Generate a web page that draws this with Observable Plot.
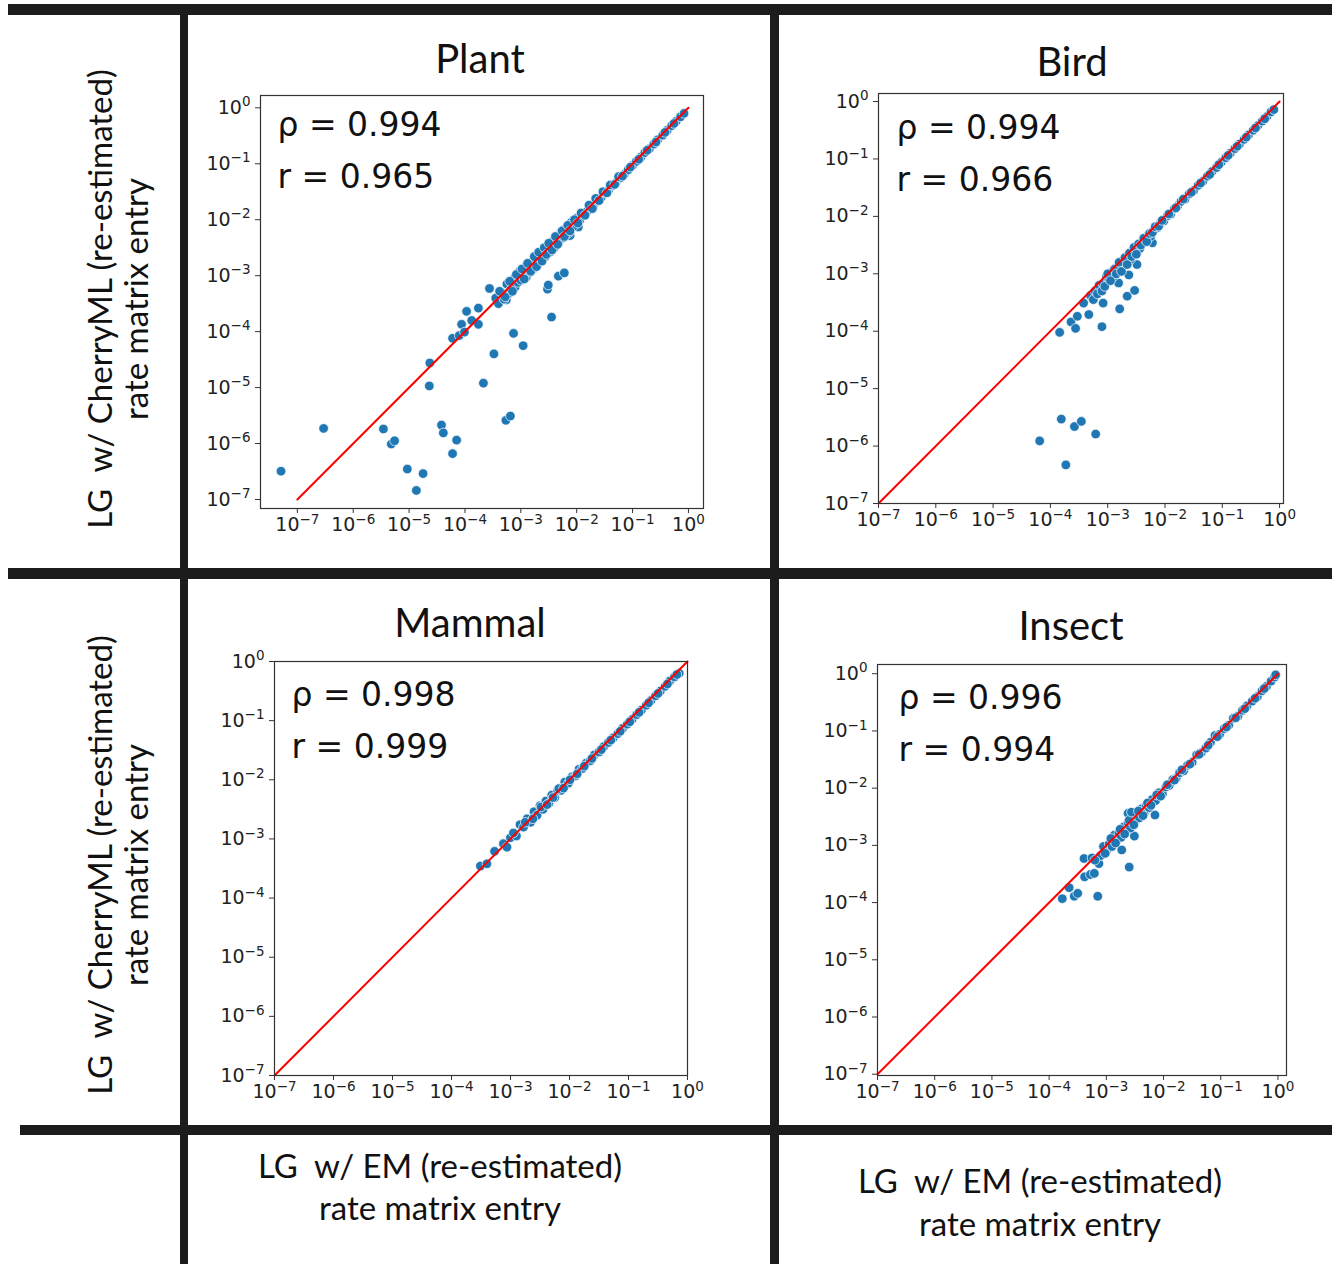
<!DOCTYPE html>
<html>
<head>
<meta charset="utf-8">
<script src="https://cdn.jsdelivr.net/npm/d3@7"></script>
<script src="https://cdn.jsdelivr.net/npm/@observablehq/plot@0.6"></script>
<style>
  html, body { margin: 0; padding: 0; background: white; }
  #root { position: relative; width: 1336px; height: 1264px; background: white; overflow: hidden; }
  .panel { position: absolute; }
  #deco { position: absolute; left: 0; top: 0; pointer-events: none; }
  #deco text { white-space: pre; }
</style>
</head>
<body>
<div id="root"></div>
<script>
// ---------- data ----------
const titles = ["Plant", "Bird", "Mammal", "Insect"];
const rhoValues = ["0.994", "0.994", "0.998", "0.996"];
const rValues = ["0.965", "0.966", "0.999", "0.994"];
const tickValues = [1e-7, 1e-6, 1e-5, 1e-4, 1e-3, 1e-2, 1e-1, 1];
const diagonal = [1e-7, 1];
const rowLabel = ["LG  w/ CherryML (re-estimated)", "rate matrix entry"];
const colLabel = ["LG  w/ EM (re-estimated)", "rate matrix entry"];

const plantX = [
  5.1e-8, 2.95e-7, 3.47e-6, 4.8e-6, 5.5e-6, 9.3e-6, 1.35e-5, 1.78e-5, 2.3e-5, 2.35e-5,
  3.8e-5, 4.1e-5, 6.0e-5, 7.1e-5, 6.0e-5, 7.9e-5, 8.7e-5, 9.8e-5, 1.07e-4, 1.32e-4,
  1.74e-4, 1.74e-4, 2.14e-4, 2.75e-4, 3.3e-4, 3.7e-4, 5.5e-4, 5.4e-4, 6.5e-4, 7.4e-4,
  1.1e-3, 3.0e-3, 3.1e-3, 3.55e-3, 4.7e-3, 6.0e-3, 7.6e-3, 1.07e-2,
  3.55e-4, 3.98e-4, 4.47e-4, 5.01e-4, 5.62e-4, 6.03e-4, 6.61e-4, 7.59e-4, 7.94e-4, 8.91e-4,
  9.55e-4, 1.00e-3, 1.10e-3, 1.20e-3, 1.26e-3, 1.38e-3, 1.45e-3, 1.58e-3, 1.66e-3, 1.82e-3,
  2.00e-3, 2.19e-3, 2.34e-3, 2.51e-3, 2.75e-3, 3.02e-3, 3.31e-3, 3.55e-3, 3.98e-3, 4.37e-3,
  4.79e-3, 5.25e-3, 5.75e-3, 6.31e-3, 7.08e-3, 7.94e-3, 8.71e-3, 1.00e-2, 1.12e-2, 1.32e-2,
  1.51e-2, 1.74e-2, 2.00e-2, 2.34e-2, 2.75e-2, 3.16e-2, 3.72e-2, 4.37e-2, 5.01e-2, 6.03e-2,
  7.08e-2, 8.32e-2, 1.00e-1, 1.17e-1, 1.41e-1, 1.66e-1, 2.00e-1, 2.40e-1, 2.82e-1, 3.47e-1,
  4.17e-1, 5.01e-1, 6.03e-1, 7.24e-1, 8.32e-1,
  4.17e-4, 5.25e-4, 6.31e-4, 7.08e-4, 8.32e-4, 1.05e-3, 1.15e-3, 1.32e-3, 1.51e-3, 1.74e-3,
  1.91e-3, 2.09e-3, 2.40e-3, 2.63e-3, 2.88e-3, 3.16e-3, 3.63e-3, 4.17e-3, 4.57e-3, 5.50e-3,
  6.03e-3, 6.92e-3, 7.59e-3, 9.12e-3, 1.05e-2, 1.20e-2, 1.41e-2, 1.66e-2, 1.91e-2, 2.19e-2,
  2.51e-2, 2.95e-2, 3.47e-2, 3.98e-2, 4.79e-2, 5.62e-2, 6.61e-2, 9.12e-2, 1.29e-1, 1.82e-1,
  2.63e-1, 3.80e-1, 5.50e-1
];
const plantY = [
  3.2e-7, 1.86e-6, 1.82e-6, 9.8e-7, 1.12e-6, 3.5e-7, 1.45e-7, 2.9e-7, 1.07e-5, 2.75e-5,
  2.14e-6, 1.55e-6, 6.6e-7, 1.15e-6, 7.6e-5, 8.5e-5, 1.35e-4, 9.8e-5, 2.3e-4, 1.58e-4,
  2.63e-4, 1.35e-4, 1.2e-5, 5.9e-4, 4.0e-5, 3.6e-4, 3.7e-4, 2.6e-6, 3.1e-6, 9.3e-5,
  5.6e-5, 5.75e-4, 6.8e-4, 1.82e-4, 9.8e-4, 1.12e-3, 5.2e-3, 7.4e-3,
  3.98e-4, 3.16e-4, 5.01e-4, 3.80e-4, 7.08e-4, 4.79e-4, 5.62e-4, 8.91e-4, 6.31e-4, 7.59e-4,
  1.20e-3, 8.32e-4, 1.05e-3, 1.41e-3, 9.55e-4, 1.58e-3, 1.15e-3, 1.74e-3, 1.32e-3, 2.00e-3,
  1.58e-3, 2.40e-3, 1.91e-3, 2.82e-3, 2.19e-3, 3.31e-3, 2.63e-3, 3.98e-3, 3.16e-3, 4.79e-3,
  3.98e-3, 6.03e-3, 4.79e-3, 6.92e-3, 5.75e-3, 8.91e-3, 7.59e-3, 1.07e-2, 9.55e-3, 1.26e-2,
  1.38e-2, 1.66e-2, 1.82e-2, 2.19e-2, 2.51e-2, 3.02e-2, 3.39e-2, 4.07e-2, 4.57e-2, 5.62e-2,
  6.46e-2, 7.76e-2, 9.33e-2, 1.10e-1, 1.32e-1, 1.58e-1, 1.86e-1, 2.24e-1, 2.69e-1, 3.24e-1,
  3.98e-1, 4.79e-1, 5.75e-1, 6.92e-1, 7.94e-1,
  5.25e-4, 4.17e-4, 7.94e-4, 5.25e-4, 1.05e-3, 1.32e-3, 8.71e-4, 1.66e-3, 1.20e-3, 2.19e-3,
  1.45e-3, 2.63e-3, 1.82e-3, 3.16e-3, 2.40e-3, 3.80e-3, 2.88e-3, 5.01e-3, 3.63e-3, 6.31e-3,
  5.01e-3, 7.94e-3, 6.31e-3, 1.00e-2, 8.71e-3, 1.32e-2, 1.20e-2, 1.82e-2, 1.58e-2, 2.40e-2,
  2.19e-2, 3.16e-2, 3.02e-2, 4.17e-2, 4.27e-2, 5.89e-2, 6.03e-2, 8.71e-2, 1.20e-1, 1.74e-1,
  2.45e-1, 3.63e-1, 5.25e-1
];

const birdX = [
  6.5e-5, 1.55e-4, 1.86e-4, 2.63e-4, 3.47e-4, 6.17e-4, 1.45e-4, 2.29e-4, 2.75e-4, 2.95e-4,
  4.68e-4, 7.94e-4, 3.80e-4, 5.37e-4, 8.32e-4, 6.31e-4, 1.62e-3, 2.19e-3, 2.95e-3, 1.05e-3,
  1.55e-3, 2.34e-3, 3.24e-3, 6.03e-3,
  5.01e-4, 6.03e-4, 7.08e-4, 8.32e-4, 9.55e-4, 1.05e-3, 1.15e-3, 1.26e-3, 1.38e-3, 1.51e-3,
  1.66e-3, 1.78e-3, 1.91e-3, 2.09e-3, 2.29e-3, 2.51e-3, 2.75e-3, 3.02e-3, 3.31e-3, 3.63e-3,
  3.98e-3, 4.47e-3, 5.01e-3, 5.62e-3, 6.31e-3, 7.24e-3, 8.32e-3, 9.55e-3, 1.10e-2, 1.26e-2,
  1.45e-2, 1.66e-2, 1.91e-2, 2.24e-2, 2.63e-2, 3.16e-2, 3.80e-2, 4.57e-2, 5.50e-2, 6.61e-2,
  7.94e-2, 9.55e-2, 1.15e-1, 1.38e-1, 1.66e-1, 2.00e-1, 2.40e-1, 2.88e-1, 3.47e-1, 4.17e-1,
  5.01e-1, 6.03e-1, 7.08e-1, 7.94e-1,
  5.62e-4, 6.61e-4, 7.94e-4, 8.91e-4, 1.00e-3, 1.12e-3, 1.32e-3, 1.41e-3, 1.58e-3, 1.74e-3,
  2.00e-3, 2.19e-3, 2.40e-3, 2.63e-3, 2.88e-3, 3.16e-3, 3.47e-3, 3.80e-3, 4.27e-3, 4.79e-3,
  5.37e-3, 6.03e-3, 6.76e-3, 7.76e-3, 8.91e-3, 1.17e-2, 1.55e-2, 2.09e-2, 2.88e-2, 4.17e-2,
  6.03e-2, 8.71e-2, 1.26e-1, 1.82e-1, 2.63e-1, 3.80e-1, 5.50e-1
];
const birdY = [
  1.23e-6, 2.95e-6, 4.7e-7, 2.19e-6, 2.69e-6, 1.62e-6, 9.55e-5, 1.45e-4, 1.12e-4, 1.82e-4,
  1.95e-4, 1.20e-4, 3.09e-4, 3.80e-4, 3.09e-4, 4.37e-4, 2.45e-4, 4.07e-4, 5.13e-4, 7.41e-4,
  6.92e-4, 9.55e-4, 1.45e-3, 3.47e-3,
  4.17e-4, 5.01e-4, 6.31e-4, 6.61e-4, 8.91e-4, 7.94e-4, 1.05e-3, 8.91e-4, 1.26e-3, 1.12e-3,
  1.45e-3, 1.26e-3, 1.74e-3, 1.51e-3, 2.09e-3, 1.78e-3, 2.51e-3, 2.40e-3, 3.02e-3, 2.75e-3,
  3.63e-3, 3.80e-3, 4.57e-3, 4.47e-3, 5.75e-3, 6.31e-3, 7.59e-3, 8.32e-3, 1.02e-2, 1.10e-2,
  1.35e-2, 1.51e-2, 1.82e-2, 2.00e-2, 2.45e-2, 2.82e-2, 3.47e-2, 4.07e-2, 5.01e-2, 6.03e-2,
  7.08e-2, 8.71e-2, 1.05e-1, 1.26e-1, 1.51e-1, 1.82e-1, 2.19e-1, 2.63e-1, 3.16e-1, 3.80e-1,
  4.57e-1, 5.50e-1, 6.61e-1, 7.24e-1,
  3.55e-4, 4.47e-4, 5.01e-4, 6.03e-4, 1.00e-3, 7.59e-4, 1.20e-3, 1.00e-3, 1.58e-3, 1.10e-3,
  1.91e-3, 1.45e-3, 2.29e-3, 2.00e-3, 2.88e-3, 2.19e-3, 3.31e-3, 3.16e-3, 4.17e-3, 3.63e-3,
  5.01e-3, 5.25e-3, 6.61e-3, 6.76e-3, 8.51e-3, 1.10e-2, 1.41e-2, 2.00e-2, 2.63e-2, 3.80e-2,
  5.37e-2, 7.94e-2, 1.15e-1, 1.66e-1, 2.40e-1, 3.47e-1, 5.01e-1
];

const mammalX = [
  3.09e-4, 3.98e-4, 5.37e-4, 7.59e-4, 8.71e-4, 1.00e-3, 1.26e-3, 1.45e-3, 1.66e-3, 1.91e-3,
  2.19e-3, 2.51e-3, 2.82e-3, 3.16e-3, 3.55e-3, 3.98e-3, 4.47e-3, 5.01e-3, 5.62e-3, 6.31e-3,
  7.24e-3, 8.32e-3, 9.55e-3, 1.10e-2, 1.26e-2, 1.45e-2, 1.66e-2, 1.91e-2, 2.24e-2, 2.63e-2,
  3.16e-2, 3.80e-2, 4.57e-2, 5.50e-2, 6.61e-2, 7.94e-2, 9.55e-2, 1.15e-1, 1.38e-1, 1.66e-1,
  2.00e-1, 2.40e-1, 2.88e-1, 3.47e-1, 4.17e-1, 5.01e-1, 6.03e-1, 7.24e-1,
  1.12e-3, 1.78e-3, 2.40e-3, 3.31e-3, 4.17e-3, 5.25e-3, 6.61e-3, 7.94e-3, 1.02e-2, 1.35e-2,
  1.78e-2, 2.40e-2, 3.47e-2, 5.01e-2, 7.24e-2, 1.05e-1, 1.51e-1, 2.19e-1, 3.16e-1, 4.57e-1,
  6.61e-1
];
const mammalY = [
  3.47e-4, 3.80e-4, 6.17e-4, 8.32e-4, 7.24e-4, 1.05e-3, 1.12e-3, 1.74e-3, 1.58e-3, 2.19e-3,
  1.91e-3, 2.88e-3, 2.51e-3, 3.63e-3, 3.16e-3, 4.37e-3, 3.98e-3, 5.50e-3, 5.01e-3, 6.61e-3,
  6.61e-3, 9.12e-3, 8.71e-3, 1.12e-2, 1.17e-2, 1.51e-2, 1.55e-2, 1.91e-2, 2.09e-2, 2.63e-2,
  2.95e-2, 3.63e-2, 4.27e-2, 5.13e-2, 6.03e-2, 7.41e-2, 8.71e-2, 1.05e-1, 1.26e-1, 1.51e-1,
  1.82e-1, 2.19e-1, 2.63e-1, 3.16e-1, 3.80e-1, 4.68e-1, 5.50e-1, 6.31e-1,
  1.26e-3, 1.91e-3, 2.19e-3, 3.47e-3, 3.80e-3, 5.01e-3, 7.08e-3, 7.24e-3, 1.00e-2, 1.26e-2,
  1.70e-2, 2.29e-2, 3.24e-2, 4.68e-2, 6.61e-2, 9.55e-2, 1.38e-1, 2.00e-1, 2.88e-1, 4.17e-1,
  6.03e-1
];

const insectX = [
  1.70e-4, 2.24e-4, 2.75e-4, 3.16e-4, 7.08e-4, 2.51e-3, 4.07e-4, 4.17e-4, 5.25e-4, 6.17e-4,
  7.41e-4, 1.86e-3, 2.40e-3, 3.09e-3, 7.08e-3,
  5.62e-4, 7.94e-4, 8.91e-4, 1.00e-3, 1.12e-3, 1.26e-3, 1.38e-3, 1.51e-3, 1.66e-3, 1.82e-3,
  2.00e-3, 2.19e-3, 2.40e-3, 2.63e-3, 2.88e-3, 3.16e-3, 3.47e-3, 3.80e-3, 4.17e-3, 4.57e-3,
  5.01e-3, 5.62e-3, 6.31e-3, 7.24e-3, 8.32e-3, 9.55e-3, 1.10e-2, 1.26e-2, 1.45e-2, 1.66e-2,
  1.91e-2, 2.24e-2, 2.63e-2, 3.16e-2, 3.80e-2, 4.57e-2, 5.50e-2, 6.61e-2, 7.94e-2, 9.55e-2,
  1.15e-1, 1.38e-1, 1.66e-1, 2.00e-1, 2.40e-1, 2.88e-1, 3.55e-1, 4.37e-1, 5.25e-1, 6.31e-1,
  7.59e-1, 8.71e-1, 9.12e-1,
  6.31e-4, 9.55e-4, 1.20e-3, 1.45e-3, 1.74e-3, 2.09e-3, 2.51e-3, 2.75e-3, 3.02e-3, 3.63e-3,
  4.37e-3, 5.25e-3, 6.03e-3, 7.59e-3, 8.91e-3, 1.17e-2, 1.55e-2, 2.09e-2, 2.88e-2, 4.17e-2,
  6.03e-2, 8.71e-2, 1.26e-1, 1.82e-1, 2.63e-1, 3.98e-1, 5.75e-1
];
const insectY = [
  1.17e-4, 1.82e-4, 1.29e-4, 1.45e-4, 1.29e-4, 4.17e-4, 5.89e-4, 2.82e-4, 3.09e-4, 3.24e-4,
  4.79e-4, 8.32e-4, 3.63e-3, 1.45e-3, 3.39e-3,
  6.03e-4, 6.61e-4, 9.55e-4, 7.94e-4, 1.05e-3, 9.55e-4, 1.51e-3, 1.20e-3, 1.66e-3, 1.38e-3,
  2.09e-3, 1.74e-3, 2.51e-3, 2.00e-3, 3.02e-3, 2.63e-3, 3.63e-3, 3.02e-3, 4.37e-3, 3.63e-3,
  5.01e-3, 4.57e-3, 6.31e-3, 6.03e-3, 8.32e-3, 7.94e-3, 1.05e-2, 1.12e-2, 1.41e-2, 1.48e-2,
  1.86e-2, 2.00e-2, 2.51e-2, 2.82e-2, 3.80e-2, 4.17e-2, 5.01e-2, 6.31e-2, 8.32e-2, 8.71e-2,
  1.10e-1, 1.26e-1, 1.66e-1, 1.82e-1, 2.29e-1, 2.75e-1, 3.31e-1, 3.98e-1, 5.01e-1, 6.03e-1,
  7.41e-1, 8.71e-1, 9.55e-1,
  5.50e-4, 7.24e-4, 1.32e-3, 1.10e-3, 1.91e-3, 1.58e-3, 2.75e-3, 3.80e-3, 2.29e-3, 3.98e-3,
  3.31e-3, 5.50e-3, 5.01e-3, 7.59e-3, 7.24e-3, 1.15e-2, 1.38e-2, 2.09e-2, 2.63e-2, 3.89e-2,
  5.62e-2, 7.94e-2, 1.17e-1, 1.70e-1, 2.45e-1, 3.72e-1, 5.50e-1
];

// ---------- layout (pixels) ----------
const panels = [
  { title: titles[0], xs: plantX, ys: plantY, rho: rhoValues[0], r: rValues[0],
    frame: { x0: 260, y0: 95, x1: 703, y1: 508 }, xdom: [2.19e-8, 1.86], ydom: [6.9e-8, 1.66],
    titlePos: [480, 73], textDx: 17, textDy: 40 },
  { title: titles[1], xs: birdX, ys: birdY, rho: rhoValues[1], r: rValues[1],
    frame: { x0: 878, y0: 93, x1: 1283, y1: 503 }, xdom: [1e-7, 1.17], ydom: [1e-7, 1.38],
    titlePos: [1072, 76], textDx: 18, textDy: 45 },
  { title: titles[2], xs: mammalX, ys: mammalY, rho: rhoValues[2], r: rValues[2],
    frame: { x0: 274, y0: 661, x1: 687, y1: 1075 }, xdom: [1e-7, 1], ydom: [1e-7, 1],
    titlePos: [470, 637], textDx: 17, textDy: 44 },
  { title: titles[3], xs: insectX, ys: insectY, rho: rhoValues[3], r: rValues[3],
    frame: { x0: 877, y0: 664, x1: 1286, y1: 1075 }, xdom: [1e-7, 1.41], ydom: [9.5e-8, 1.45],
    titlePos: [1071, 640], textDx: 21, textDy: 44 }
];

// tick label "10^e" -> "10" with a raised exponent (rewritten as tspans after rendering)
const fmt = d => "10^" + String(Math.round(Math.log10(d))).replace("-", "\u2212");

function superscriptTicks(chart) {
  chart.querySelectorAll('g[aria-label$="tick label"]').forEach(g => g.setAttribute("font-size", "19"));
  chart.querySelectorAll('g[aria-label$="tick label"] text').forEach(t => {
    const s = t.textContent;
    if (!s.includes("^")) return;
    const [base, exp] = s.split("^");
    t.textContent = "";
    const ns = "http://www.w3.org/2000/svg";
    const a = document.createElementNS(ns, "tspan");
    a.textContent = base;
    const b = document.createElementNS(ns, "tspan");
    b.textContent = exp;
    b.setAttribute("dy", "-0.55em");
    b.setAttribute("font-size", "13.5");
    t.appendChild(a);
    t.appendChild(b);
  });
}

const root = document.getElementById("root");
const ML = 80, MT = 20, MR = 25, MB = 50;

for (const p of panels) {
  const w = p.frame.x1 - p.frame.x0, h = p.frame.y1 - p.frame.y0;
  const pts = p.xs.map((x, i) => ({ x, y: p.ys[i] }));
  const line = diagonal.map(v => ({ x: v, y: v }));
  const chart = Plot.plot({
    width: w + ML + MR, height: h + MT + MB,
    marginLeft: ML, marginTop: MT, marginRight: MR, marginBottom: MB,
    style: { fontFamily: "DejaVu Sans", fontSize: "19px", color: "#222", background: "transparent", overflow: "visible" },
    x: { type: "log", domain: p.xdom },
    y: { type: "log", domain: p.ydom },
    marks: [
      Plot.axisX({ ticks: tickValues, tickFormat: fmt, tickSize: 5, tickPadding: 4, fontSize: 19, label: null, stroke: "#333" }),
      Plot.axisY({ ticks: tickValues, tickFormat: fmt, tickSize: 5, tickPadding: 5, fontSize: 19, label: null, stroke: "#333" }),
      Plot.dot(pts, { x: "x", y: "y", r: 4.8, fill: "#1f77b4", stroke: "white", strokeWidth: 0.7 }),
      Plot.line(line, { x: "x", y: "y", stroke: "red", strokeWidth: 2 }),
      Plot.frame({ stroke: "#333", strokeWidth: 1.2 }),
      Plot.text([`\u03C1 = ${p.rho}`], { frameAnchor: "top-left", text: d => d, dx: p.textDx, dy: p.textDy,
        lineAnchor: "bottom", fontSize: 33, fontFamily: "DejaVu Sans", fill: "#111" }),
      Plot.text([`r = ${p.r}`], { frameAnchor: "top-left", text: d => d, dx: p.textDx, dy: p.textDy + 52,
        lineAnchor: "bottom", fontSize: 33, fontFamily: "DejaVu Sans", fill: "#111" })
    ]
  });
  superscriptTicks(chart);
  chart.classList.add("panel");
  chart.style.left = (p.frame.x0 - ML) + "px";
  chart.style.top = (p.frame.y0 - MT) + "px";
  root.appendChild(chart);
}

// ---------- decoration: grid bars, titles, row/column labels ----------
const svg = d3.select(root).append("svg").attr("id", "deco").attr("width", 1336).attr("height", 1264);
const barColor = "#1c1c1c";
const bars = [[8, 4, 1324, 11], [8, 568, 1324, 11], [20, 1125, 1312, 10], [180, 10, 8, 1254], [770, 10, 9, 1254]];
svg.selectAll("rect.bar").data(bars).join("rect").attr("class", "bar")
  .attr("x", d => d[0]).attr("y", d => d[1]).attr("width", d => d[2]).attr("height", d => d[3]).attr("fill", barColor);

const font = "Lato, 'Open Sans', sans-serif";
svg.selectAll("text.title").data(panels).join("text").attr("class", "title")
  .attr("x", d => d.titlePos[0]).attr("y", d => d.titlePos[1])
  .attr("text-anchor", "middle").attr("font-family", font).attr("font-size", 40).attr("fill", "#111")
  .text(d => d.title);

for (const cy of [299, 865]) {
  rowLabel.forEach((t, i) => {
    const bx = i === 0 ? 112 : 148;
    svg.append("text").attr("transform", `translate(${bx},${cy}) rotate(-90)`)
      .attr("text-anchor", "middle").attr("font-family", font).attr("font-size", 33).attr("fill", "#111").text(t);
  });
}
const colPos = [[440, 1178, 1220], [1040, 1193, 1236]];
for (const [cx, y1, y2] of colPos) {
  colLabel.forEach((t, i) => {
    svg.append("text").attr("x", cx).attr("y", i === 0 ? y1 : y2)
      .attr("text-anchor", "middle").attr("font-family", font).attr("font-size", 33).attr("fill", "#111").text(t);
  });
}
</script>
</body>
</html>
